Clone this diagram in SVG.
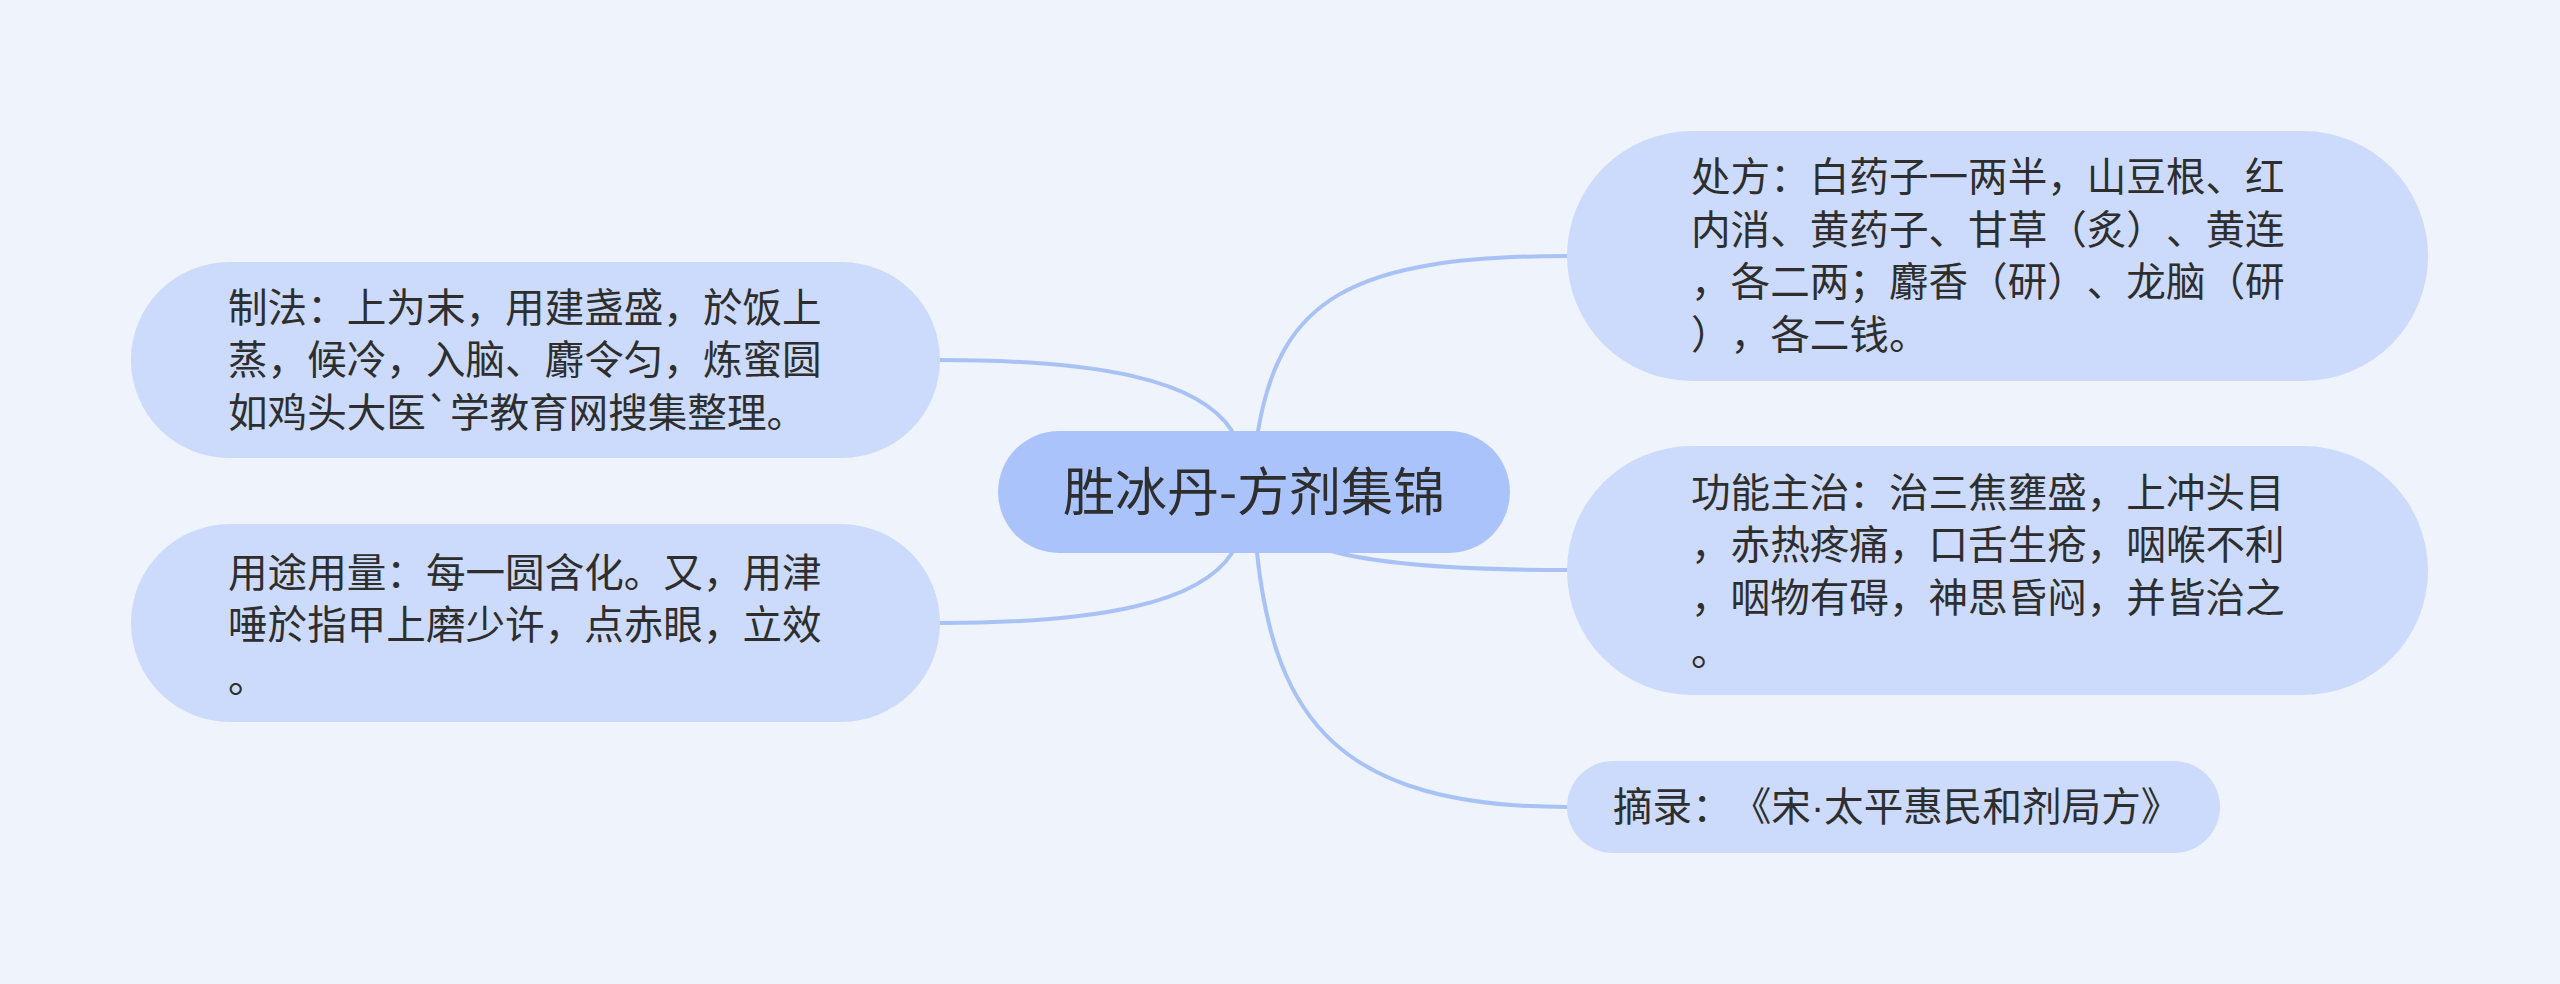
<svg xmlns="http://www.w3.org/2000/svg" width="2560" height="984" viewBox="0 0 2560 984">
<style>
.bg{fill:#eef3fc}
.root{fill:#aac4fb}
.child{fill:#ccdbfb}
.link{fill:none;stroke:#a9c2f6;stroke-width:4;stroke-linecap:round}
text{font-family:"Noto Sans CJK SC","Noto Sans",sans-serif;fill:#2e2e2e;text-spacing-trim:space-all;font-kerning:none}
.t{font-size:39.6px}
.rt{font-size:52px}
.dot{font-family:"Liberation Sans",sans-serif}
</style>
<rect class="bg" x="0" y="0" width="2560" height="984"/>
<g id="connectors">
<path class="link" d="M940,360 C1100,360 1200,380 1232,431"/>
<path class="link" d="M940,623 C1100,623 1200,603 1232,553"/>
<path class="link" d="M1258,431 C1280,300 1350,256 1567,256"/>
<path class="link" d="M1331,551 Q1400,570 1567,570"/>
<path class="link" d="M1257,553 C1275,720 1340,807 1567,807"/>
</g>
<g id="root">
<rect class="root" x="998" y="431" width="512" height="122" rx="61"/>
<text class="rt" x="1254" y="511" text-anchor="middle">胜冰丹-方剂集锦</text>
</g>
<g id="node-zhifa">
<rect class="child" x="131" y="262" width="809" height="196" rx="98"/>
<text class="t"><tspan x="228" y="321.5">制法：上为末，用建盏盛，於饭上</tspan><tspan x="228" y="374.3">蒸，候冷，入脑、麝令匀，炼蜜圆</tspan><tspan x="228" y="427">如鸡头大医`学教育网搜集整理。</tspan></text>
</g>
<g id="node-yongtu">
<rect class="child" x="131" y="524" width="809" height="198" rx="99"/>
<text class="t"><tspan x="228" y="586.5">用途用量：每一圆含化。又，用津</tspan><tspan x="228" y="639.2">唾於指甲上磨少许，点赤眼，立效</tspan><tspan x="228" y="691.9">。</tspan></text>
</g>
<g id="node-chufang">
<rect class="child" x="1567" y="131" width="861" height="250" rx="125"/>
<text class="t"><tspan x="1691" y="191">处方：白药子一两半，山豆根、红</tspan><tspan x="1691" y="243.7">内消、黄药子、甘草（炙）、黄连</tspan><tspan x="1691" y="296.4">，各二两；麝香（研）、龙脑（研</tspan><tspan x="1691" y="349.1">），各二钱。</tspan></text>
</g>
<g id="node-gongneng">
<rect class="child" x="1567" y="446" width="861" height="249" rx="124.5"/>
<text class="t"><tspan x="1691" y="506.5">功能主治：治三焦壅盛，上冲头目</tspan><tspan x="1691" y="559.2">，赤热疼痛，口舌生疮，咽喉不利</tspan><tspan x="1691" y="611.9">，咽物有碍，神思昏闷，并皆治之</tspan><tspan x="1691" y="664.6">。</tspan></text>
</g>
<g id="node-zhailu">
<rect class="child" x="1567" y="761" width="653" height="92" rx="46"/>
<text class="t" x="1613" y="820.7">摘录：《宋<tspan class="dot">·</tspan>太平惠民和剂局方》</text>
</g>
</svg>
